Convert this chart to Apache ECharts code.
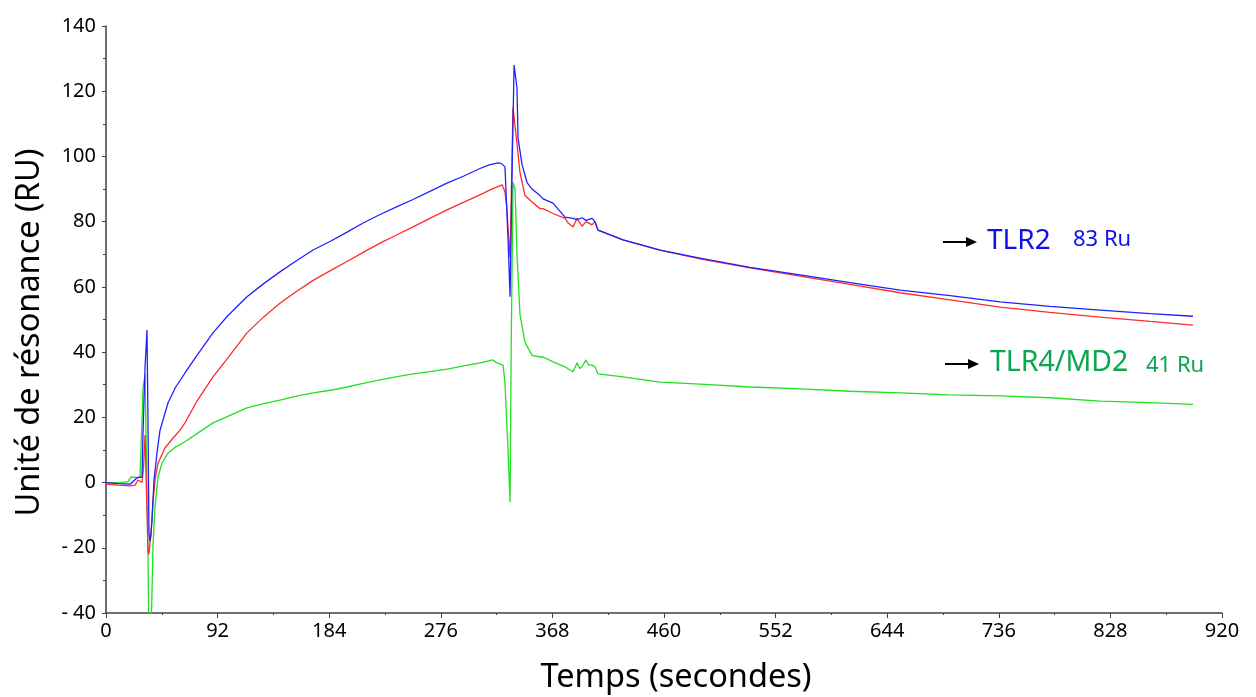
<!DOCTYPE html>
<html>
<head>
<meta charset="utf-8">
<script src="https://cdn.jsdelivr.net/npm/echarts@6/dist/echarts.min.js"></script>
<style>html,body{margin:0;padding:0;background:#fff}#c{width:1256px;height:697px}</style>
</head>
<body>
<div id="c"></div>
<script>
// Time ticks (seconds) and response ticks (RU)
const xTicks = [0, 92, 184, 276, 368, 460, 552, 644, 736, 828, 920];
const yTicks = [-40, -20, 0, 20, 40, 60, 80, 100, 120, 140];

// TLR2 (blue) [time s, RU]
const blueData = [[0,0],[10,-0.3],[20,-0.5],[25.6,1.5],[29.7,1.7],[30.5,15],[32.2,35.5],[33.8,46.8],[34.6,19],[35.4,-15.5],[36.3,-18],[37.1,-16],[37.9,-11.5],[39.6,0.8],[42,9],[44.5,16],[51.1,24.4],[57,29],[65.1,33.6],[75,39],[88.2,45.9],[100,51],[116.2,57],[130,61],[143.4,64.6],[157,68],[170.7,71.3],[185,74],[198.7,76.8],[212,79.6],[225.9,82.2],[240,84.6],[253.1,86.8],[267,89.3],[281.1,91.8],[295,94],[308.3,96.3],[316,97.4],[323.2,98],[326,97.8],[328.9,96.8],[331.4,75],[333.1,57],[334.5,90],[336.4,128],[338.8,121],[339.7,105.6],[343,97.4],[347.1,92],[351.2,90],[357.8,88],[360.3,87],[368.5,85.7],[378.4,81.4],[385,81],[388.3,80.6],[392.4,81.2],[395.7,80.4],[400.7,81],[403.1,80],[405.6,77.4],[426.2,74.4],[456.7,71.3],[489.7,68.8],[530.9,66],[572.1,63.7],[613.4,61.3],[654.6,59],[695.8,57.3],[737,55.4],[778.2,54],[819.5,52.9],[860.7,51.8],[896.1,51]];

// Reference / second channel (red)
const redData = [[0,-0.5],[10,-0.8],[20,-1],[24,-0.8],[26.4,0.8],[29.7,0],[31,5],[32.2,14.6],[33.8,14],[34.6,-20.7],[35.4,-22],[36.3,-18.5],[37.9,-11.5],[38.7,-6],[40.4,0.8],[42.9,6],[48.6,10.6],[55,13.5],[61,16.1],[65.1,18.3],[75,25],[88.2,32.4],[100,38],[116.2,45.9],[130,50.8],[143.4,55],[157,58.6],[170.7,62],[185,65],[198.7,67.8],[212,70.6],[225.9,73.4],[240,76],[253.1,78.4],[267,81],[281.1,83.6],[295,86],[308.3,88.2],[318,90],[326.5,91.3],[328.9,89.2],[330.5,84],[331.4,78],[333.1,69],[334,85],[335.5,115],[338.8,104],[341.3,95],[345.4,88],[351.2,86],[357.8,84],[360.3,84],[368.5,82.5],[378.4,81],[381,79.6],[385,78.4],[388.3,81],[392.4,78.6],[395.7,80],[400.7,79],[403.1,80],[405.6,77.4],[426.2,74.4],[456.7,71.3],[489.7,68.6],[530.9,65.8],[572.1,63.3],[613.4,60.8],[654.6,58.2],[695.8,56],[737,53.8],[778.2,52.2],[819.5,50.7],[860.7,49.4],[896.1,48.3]];

// TLR4/MD2 (green)
const greenData = [[0,0],[10,0],[18,0.2],[20.6,1.7],[26,1.5],[28,1.7],[29.7,19],[30.5,29],[32.2,33],[33.8,33],[34.6,-21.7],[35.4,-48],[37.1,-48],[38.7,-19.7],[40.4,-7.5],[42.9,1.7],[46.2,6],[51.1,9],[57,10.8],[65.1,12.5],[75,15],[88.2,18.3],[100,20.2],[116.2,22.9],[130,24.2],[143.4,25.3],[157,26.5],[170.7,27.5],[185,28.3],[198.7,29.3],[212,30.4],[225.9,31.5],[240,32.5],[253.1,33.3],[267,34],[281.1,34.8],[295,35.8],[308.3,36.7],[319,37.6],[322.3,36.7],[327.3,36],[328.9,30.6],[331.4,10],[333.1,-6],[334,40],[335.5,92],[337.2,90],[338.8,70],[341.3,51.4],[345.4,43],[351.2,39],[357.8,38.5],[360.3,38.5],[368.5,37],[378.4,35.5],[382.5,34.5],[385,34],[388.3,36.7],[390.5,35],[392.4,35.5],[395.7,37.6],[398,36],[400.7,36],[403.1,35.5],[405.6,33.3],[426.2,32.4],[456.7,30.8],[489.7,30.2],[530.9,29.3],[572.1,28.7],[613.4,28],[654.6,27.5],[695.8,26.9],[737,26.6],[778.2,26],[819.5,25],[860.7,24.5],[896.1,24]];

const labels = ['TLR2', '83 Ru', 'TLR4/MD2', '41 Ru'];

const FONT = 'Noto Sans';
const chart = echarts.init(document.getElementById('c'));
const axisCol = '#404040';
chart.setOption({
  animation: false,
  backgroundColor: '#fff',
  grid: {left: 106, right: 34, top: 26, bottom: 84, containLabel: false, outerBoundsMode: 'none'},
  xAxis: {
    type: 'value', min: xTicks[0], max: xTicks[xTicks.length-1], interval: 92,
    name: 'Temps (secondes)', nameLocation: 'middle', nameGap: 48,
    nameTextStyle: {fontFamily: FONT, fontSize: 32.5, color: '#000', padding: [0,0,0,24]},
    axisLine: {onZero: false, lineStyle: {color: axisCol, width: 1.5}},
    axisTick: {show: true, length: 5, lineStyle: {color: axisCol}},
    minorTick: {show: true, splitNumber: 2, length: 2, lineStyle: {color: axisCol}},
    axisLabel: {fontFamily: FONT, fontSize: 20, color: '#000', margin: 8},
    splitLine: {show: false}
  },
  yAxis: {
    type: 'value', min: yTicks[0], max: yTicks[yTicks.length-1], interval: 20,
    name: 'Unité de résonance (RU)', nameLocation: 'middle', nameGap: 60,
    nameTextStyle: {fontFamily: FONT, fontSize: 32.5, color: '#000', padding: [0, 26, 0, 0]},
    axisLine: {show: true, onZero: false, lineStyle: {color: axisCol, width: 1.5}},
    axisTick: {show: true, length: 4, lineStyle: {color: axisCol}},
    minorTick: {show: true, splitNumber: 2, length: 3, lineStyle: {color: axisCol}},
    axisLabel: {fontFamily: FONT, fontSize: 20, color: '#000', margin: 10,
      formatter: v => v < 0 ? '- ' + Math.abs(v) : String(v)},
    splitLine: {show: false}
  },
  series: [
    {type: 'line', data: redData, showSymbol: false, symbol: 'none', clip: true,
     lineStyle: {color: '#ff2a2a', width: 1.3}, z: 2},
    {type: 'line', data: blueData, showSymbol: false, symbol: 'none', clip: true,
     lineStyle: {color: '#2020ff', width: 1.3}, z: 3},
    {type: 'line', data: greenData, showSymbol: false, symbol: 'none', clip: true,
     lineStyle: {color: '#22e022', width: 1.3}, z: 1}
  ],
  graphic: [
    {type: 'line', shape: {x1: 943, y1: 242, x2: 968, y2: 242}, style: {stroke: '#000', lineWidth: 2}},
    {type: 'polygon', shape: {points: [[966,237],[977,242],[966,247]]}, style: {fill: '#000'}},
    {type: 'text', left: 987, top: 227, style: {text: labels[0], font: '28px "Noto Sans"', fill: '#1010e8'}},
    {type: 'text', left: 1073, top: 229, style: {text: labels[1], font: '22px "Noto Sans"', fill: '#1010e8'}},
    {type: 'line', shape: {x1: 945, y1: 364, x2: 970, y2: 364}, style: {stroke: '#000', lineWidth: 2}},
    {type: 'polygon', shape: {points: [[968,359],[979,364],[968,369]]}, style: {fill: '#000'}},
    {type: 'text', left: 990, top: 348, style: {text: labels[2], font: '28.5px "Noto Sans"', fill: '#0aa650'}},
    {type: 'text', left: 1146, top: 355, style: {text: labels[3], font: '22px "Noto Sans"', fill: '#0aa650'}}
  ]
});
</script>
</body>
</html>
